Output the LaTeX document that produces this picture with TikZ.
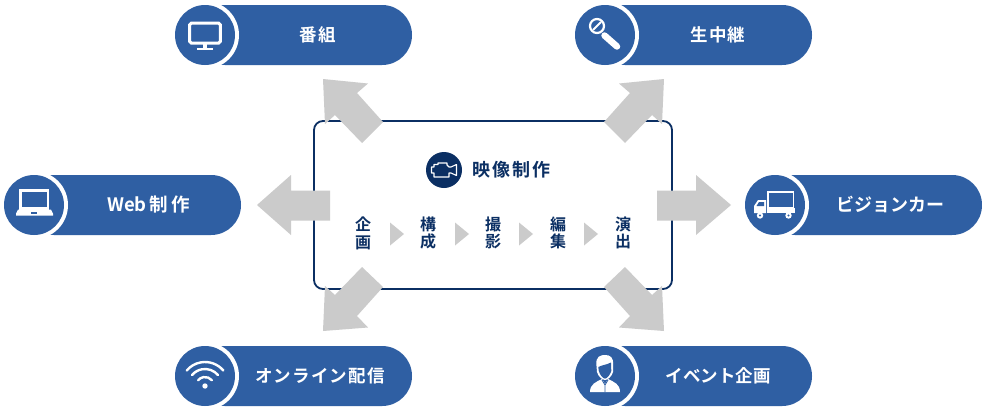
\documentclass[tikz,border=0pt]{standalone}
\usepackage{fontspec}
\setmainfont{Noto Sans CJK JP}
\newfontfamily\cjkb{Noto Sans CJK JP Bold}
\newfontfamily\cjks{Noto Sans CJK JP Bold}[LetterSpace=7]
\definecolor{pillblue}{HTML}{2F5FA3}
\definecolor{navy}{HTML}{0B2F63}
\definecolor{arrowgray}{HTML}{CBCBCB}
\tikzset{
  pillbody/.style={fill=pillblue,draw=none,rounded corners=29.9pt},
  ring/.style={fill=white,draw=none},
  badge/.style={fill=pillblue,draw=none},
  pilltext/.style={text=white,font=\cjks\fontsize{17.5}{17.5}\selectfont,inner sep=0pt,anchor=center},
  steptext/.style={text=navy,font=\cjkb\fontsize{16}{17.8}\selectfont,inner sep=0pt,align=center,anchor=center},
  blockarrow/.style={fill=arrowgray,draw=none},
  mini/.style={fill=arrowgray,draw=none},
  iconline/.style={draw=white,line width=2pt,fill=none},
  iconfill/.style={fill=white,draw=none},
  framebox/.style={draw=navy,line width=1.8pt,rounded corners=9pt,fill=white},
}
\newcommand{\pillshape}[3]{% left x, top y, name
  \fill[pillbody] (#1+20,#2) rectangle (#1+237,#2+60);
  \begin{scope}
    \clip (#1,#2) rectangle (#1+237,#2+60);
    \fill[ring] (#1+30,#2+30) circle (34);
  \end{scope}
  \fill[badge] (#1+30,#2+30) circle (30);
  \coordinate (#3) at (#1+30,#2+30);
}
\begin{document}
\begin{tikzpicture}[x=1pt,y=-1pt]
\useasboundingbox (0,0) rectangle (982,410);
\fill[white] (0,0) rectangle (982,410);
% centre frame
\draw[framebox] (314,121) rectangle (672,289);
% block arrows
\fill[blockarrow] (323,79) -- (368,83.5) -- (357,93) -- (383,122) -- (362,143) -- (335,115) -- (325,124) -- cycle;
\fill[blockarrow] (664,79) -- (619,83.5) -- (630,93) -- (604,122) -- (625,143) -- (652,115) -- (662,124) -- cycle;
\fill[blockarrow] (323,331) -- (368,327.5) -- (357,316) -- (383,287) -- (362,267) -- (335,295) -- (325,286) -- cycle;
\fill[blockarrow] (664,331) -- (619,327.5) -- (630,316) -- (604,287) -- (625,267) -- (652,295) -- (662,286) -- cycle;
\fill[blockarrow] (330,190.5) -- (291,190.5) -- (291,175) -- (257,205) -- (291,235) -- (291,220.5) -- (330,220.5) -- cycle;
\fill[blockarrow] (657,190.5) -- (696,190.5) -- (696,175) -- (731,205) -- (696,235) -- (696,220.5) -- (657,220.5) -- cycle;
% pills
\pillshape{175}{5}{iconA}
\pillshape{575}{5}{iconB}
\pillshape{4}{175}{iconC}
\pillshape{745}{175}{iconD}
\pillshape{175}{346}{iconE}
\pillshape{575}{346}{iconF}
\node[pilltext] (lblA) at (318,34.5) {番組};
\node[pilltext] (lblB) at (718,34.5) {生中継};
\node[pilltext,font=\cjkb\fontsize{18.5}{18.5}\selectfont] (lblC) at (148.5,204.5) {Web\kern3pt 制\kern3pt 作};
\node[pilltext,font=\cjkb\fontsize{18}{18}\selectfont] (lblD) at (890,204.5) {ビジョンカー};
\node[pilltext] (lblE) at (320,375.5) {オンライン配信};
\node[pilltext,font=\cjkb\fontsize{17.5}{17.5}\selectfont] (lblF) at (718,375.5) {イベント企画};
% monitor
\draw[iconline,line width=3pt,rounded corners=1.5pt] (189.7,23.2) rectangle (220.3,43);
\fill[iconfill] (203,44) rectangle (207,48);
\fill[iconfill] (197,47.5) rectangle (213,50);
% microphone
\draw[iconline,line width=2.2pt] (597,26) circle (7);
\draw[iconline,line width=2pt] (593,30) -- (601,22);
\draw[white,line width=6.5pt,line cap=round] (604.5,35.5) -- (617,46.5);
% laptop
\draw[iconline,line width=2.2pt] (20.4,190.4) rectangle (48,208.5);
\fill[iconfill] (18,209.5) -- (51,209.5) -- (53,213.5) -- (53,215.7) -- (16,215.7) -- (16,213.5) -- cycle;
\fill[pillblue] (31,212) rectangle (37,214);
% truck
\draw[iconline,line width=1.4pt] (768,192) rectangle (793.5,208);
\fill[iconfill] (767,208) rectangle (794.5,213);
\fill[iconfill] (766,200) -- (758,200) -- (754,206) -- (754,213) -- (766,213) -- cycle;
\fill[pillblue] (764.2,202) -- (759,202) -- (756.5,206) -- (764.2,206) -- cycle;
\fill[iconfill] (760,215.5) circle (3.2);
\fill[pillblue] (760,215.5) circle (1.2);
\fill[iconfill] (788.5,215.5) circle (3.2);
\fill[pillblue] (788.5,215.5) circle (1.2);
% wifi
\fill[iconfill] (205,386) circle (2.7);
\foreach \r in {9,17,24}{
  \draw[iconline,line width=2.4pt,line cap=round] (205,386) ++(-40:\r) arc[start angle=-40,end angle=-140,radius=\r];
}
% person
\fill[iconfill] (590,392) .. controls (590,384) and (596,382) .. (602,379) -- (605,384) -- (608,379) .. controls (614,382) and (620,384) .. (620,392) -- cycle;
\fill[iconfill] (596.5,366) .. controls (595,356) and (601,355) .. (605,355) .. controls (610,355) and (614,357) .. (613,366) -- (613,372) .. controls (612,376) and (608,380) .. (605,380) .. controls (602,380) and (598,376) .. (597,372) -- cycle;
\fill[pillblue] (598.3,367) .. controls (602,365) and (606,365) .. (611,362.5) -- (611.3,371) .. controls (610,375) and (607,378.6) .. (605,378.6) .. controls (603,378.6) and (600,375) .. (598.8,371) -- cycle;
\draw[pillblue,line width=0.8pt] (602,380) -- (605,385) -- (608,380) (605,385) -- (605,392);
% centre heading
\fill[navy] (444,170) circle (18) coordinate (cam);
\draw[white,line width=1.1pt,line join=round] (431.5,167) -- (434,167) -- (434,164.5) -- (438,164.5) -- (438,163) -- (447,163) -- (447,165) -- (449,167) -- (451,167) -- (456.5,164.5) -- (456.5,175.5) -- (451,173) -- (449,173) -- (449,177) -- (434,177) -- (434,173) -- (431.5,173) -- cycle;
\node[inner sep=0pt,text=navy,font=\cjkb\fontsize{18}{18}\selectfont] (title) at (511.5,170) {映\kern2.2pt 像\kern2.2pt 制\kern2.2pt 作};
% steps
\node[steptext] (s1) at (363,233) {企\\画};
\node[steptext] (s2) at (428,233) {構\\成};
\node[steptext] (s3) at (493,233) {撮\\影};
\node[steptext] (s4) at (558,233) {編\\集};
\node[steptext] (s5) at (623,233) {演\\出};
\fill[mini] (390,222.5) -- (404,234) -- (390,245.5) -- cycle;
\fill[mini] (455,222.5) -- (469,234) -- (455,245.5) -- cycle;
\fill[mini] (519,222.5) -- (533,234) -- (519,245.5) -- cycle;
\fill[mini] (584,222.5) -- (598,234) -- (584,245.5) -- cycle;
\end{tikzpicture}
\end{document}
